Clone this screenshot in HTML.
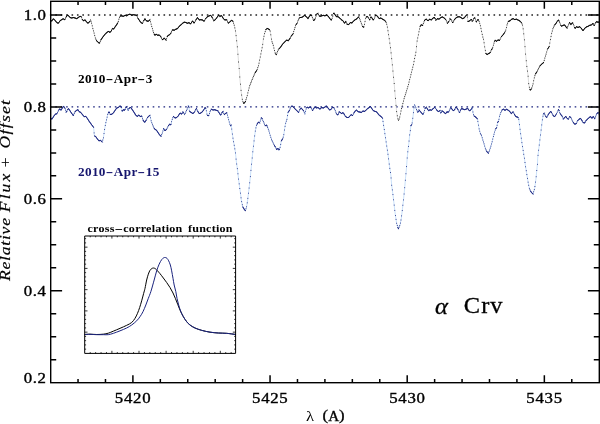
<!DOCTYPE html>
<html><head><meta charset="utf-8"><title>alpha Crv spectra</title>
<style>html,body{margin:0;padding:0;background:#fff}svg{display:block}text{font-family:"Liberation Serif","DejaVu Serif",serif;fill:#000}</style></head><body>
<svg width="600" height="424" viewBox="0 0 600 424">
<rect width="600" height="424" fill="#fff"/>
<path d="M49.9 15H599.3" stroke="#222" stroke-width="1.3" stroke-dasharray="1.6 3.81" fill="none"/>
<path d="M49.9 106.92H599.3" stroke="#1a237e" stroke-width="1.3" stroke-dasharray="1.6 3.81" fill="none"/>
<g fill="none" stroke-linecap="round" stroke-linejoin="round">
<path d="M50.7 20.83 L51.33 20.83 L51.67 21.33 L53.33 18.67 L55 20.33 L56.67 22.5 L58.33 23.33 L60 20.83 L61.67 19.67 L63.33 18.67 L64.67 20 L65.83 17.5 L67.5 15 L68.67 15.83 L70 17.5 L71.67 18 L73.33 17.5 L75 18 L76.67 18.67 L78.33 17.5 L80 16.33 L81.33 16.67 L82.5 20 L83.83 20.83 L85 19.67 L86.33 21.67 L88 23.33 L89.67 21.67 L90.5 19.67 L91.67 23.33 L93 29.17 L94.17 33.33 L95.33 38 L96.67 40.83 L98.33 42.5 L99.5 43.33 L100.83 40 L102.5 37.5 L104.17 35.33 L105.83 33.33 L107.5 32 L108.67 31.33 L110 32.5 L111.33 30.83 L112.5 28.33 L113.67 29.17 L115 27 L116.67 24.67 L118 22.5 L119.17 18.33 L120.33 15.83 L121.67 15.83 L123.33 16.33 L125 15.33 L126.67 15.83 L128.33 14.67 L130 14.17 L131.67 15.33 L133.33 14.67 L135 15 L136.67 15.33 L138 18.33 L139.67 20.83 L140.83 22.5 L142.5 23.33 L143.67 20.83 L145 18.67 L146.33 20.83 L148.33 21.33 L150 19.67 L151.33 25 L153 30.83 L154.67 35.33 L156.33 34.17 L157.5 35.33 L159.17 35 L160.83 36.67 L162.5 40 L164.17 38 L166.17 40.33 L167.5 35.83 L169.17 35 L170.83 33.33 L172.5 29.67 L174.17 30.33 L175.83 29.17 L177.5 28.67 L179.17 26.33 L180.83 25 L182.5 23.33 L184.17 22.17 L185.83 22.5 L187.5 23.33 L189.17 22.5 L190.5 24.17 L192.5 20.83 L194.17 23.33 L195.83 20 L197.5 17.5 L199.17 20 L200.83 19.67 L202.5 20 L204.17 21.33 L205.83 18.33 L207.5 16.67 L209.17 15.83 L210.83 15.33 L212.5 18 L213.83 20.83 L215.83 19.17 L217.5 16.67 L218.83 15 L220 16.67 L221.33 15.33 L223 18 L224.67 20 L226.67 19.67 L228.33 23.33 L230 21.67 L231.67 20.33 L233 21.33 L234.17 25 L235.33 30 L236.33 37.5 L237.17 45 L238 55 L238.67 63.33 L239.33 70 L240 80 L241.17 91.67 L242.5 100.83 L243.83 103.67 L245.33 101.67 L247 96.67 L248.33 90.83 L249.67 85.83 L251.67 80.83 L253.33 76.67 L255.33 72.5 L257 70 L258.67 65 L260 58.33 L261.33 51.67 L262.67 45 L263.33 39.17 L264.67 33.33 L265.83 29.67 L267.17 28.33 L268.67 29.17 L270 30 L270.83 35 L271.67 40.83 L273 44.17 L274.17 49.17 L275.33 53.67 L276.33 54.67 L277.5 51.67 L278.67 49.17 L280.33 47.5 L282 45 L283.67 43 L285.33 41.33 L286.67 40 L288.33 40.83 L290 38.33 L291.67 35.33 L293 34.17 L294.17 30 L295.83 25 L297 23.33 L298.33 20 L299.67 17.5 L301.33 17.5 L303 16.67 L304.67 15.33 L306.33 16.67 L308 18.67 L309.67 15.83 L311.33 14.67 L312.67 18.33 L313.83 20.83 L315.33 18.33 L316.67 14.17 L318 13.33 L319.17 15.83 L320 16.33 L321.67 15.83 L323.33 15.33 L325 15.83 L326.67 15 L328.33 16.33 L329.67 18.33 L331.33 20.33 L332.5 17.5 L333.67 12.5 L335 14.67 L336.33 16.67 L338 16.67 L339.67 18 L341.33 19.67 L343 20.83 L344.67 23.33 L345.83 21.33 L347 24.17 L348.67 24.67 L350.33 22.5 L352 23 L353.67 20.83 L355.33 19.67 L357 18.67 L358.67 16.67 L360 19.67 L361.33 23.33 L362.67 26.67 L363.67 27.5 L364.67 23.33 L365.83 17.5 L367.17 16.33 L368.33 17.5 L369.67 20.33 L370.83 16.67 L372 18 L373.33 20.33 L374.67 17.5 L375.83 15 L377.5 16.33 L379.17 18.67 L380.83 18 L382.5 19.17 L384.17 20 L385.83 21.67 L387 25 L388 30.83 L389.17 38.33 L390.33 46.67 L391.33 55 L392.17 63.33 L393 71.67 L394.17 83.33 L395 93.33 L395.83 103.33 L396.67 111.67 L397.67 118.33 L398.5 120.33 L399.5 118.33 L400.83 111.67 L402.5 105 L404.17 98.33 L406.33 91.67 L408.33 85 L410 78.33 L411.67 71.67 L413.33 65 L415 56.67 L416.33 50 L416.67 43.33 L418 36.67 L419.17 30.83 L420.33 25.83 L421.33 24.67 L422.5 25.83 L423.67 22.5 L425 19.67 L426.33 19.17 L428 20.83 L429.67 19.17 L431.33 20 L433 18 L434.67 17.5 L435.83 20.33 L437.5 18.67 L439.17 19.17 L440.83 17.5 L442.5 17 L444.17 18 L445.83 19.67 L447.5 23.33 L448.67 21.67 L450 18.67 L451.33 20 L452.67 23 L454.17 20 L455.83 18 L457.5 17 L459.17 16.67 L460.83 17.5 L462.5 18.67 L464.17 18 L465.83 15.83 L467 14.67 L468 21.67 L469.67 20.83 L471.33 19.17 L472.5 21.67 L473.67 18.67 L475 17.5 L476.33 22.5 L477.5 19.67 L478.67 20 L480 24.17 L481.33 30 L482.5 35.83 L483.67 40 L484.67 46.67 L485.83 53.33 L487 54.67 L488.33 53.67 L490 53 L491.33 50 L492.5 48.33 L493.67 44.17 L495 40 L496.33 41.33 L498 40 L499.67 40.33 L501.33 36.67 L503 35 L504.67 32.5 L505.83 30 L507 25 L508.33 21.33 L510 20.83 L511.67 19.17 L513.33 18.67 L514.67 19.67 L516.33 19.17 L518 20 L519.67 20.83 L521.33 22.5 L522.5 25 L523.33 30 L524.17 37.5 L525 46.67 L525.83 56.67 L526.67 65 L528 75 L528.67 83.33 L529.67 89.17 L530.33 90.33 L531.67 88.33 L533 84.17 L534.17 78.33 L535.33 74.17 L537 71.67 L538.67 68.33 L540 65.83 L541.67 64.17 L543.67 62.5 L545 57.5 L546.33 53.33 L547.5 49.17 L549.17 46.67 L550.33 40 L551.67 33.33 L553 28.33 L554.67 25 L556.33 23 L557.5 20.83 L558.67 20 L560 23.33 L561.33 26.33 L563 25.33 L564.67 25 L565.83 26.67 L567 28.33 L568.33 25 L569.67 22.5 L570.83 24.67 L572.5 22.5 L573.67 25 L575 28.67 L576.33 26.67 L578 27.5 L579.67 26.67 L581.33 28.33 L583 30.83 L584.67 28.33 L586.33 27 L588 26.33 L589.67 25.33 L591.33 25 L593 23.33 L594.17 25.83 L595.33 23.33 L596.67 21.33 L598 22.5 L599.17 21.67 L600 23.33" stroke="#bbb" stroke-width="0.5"/>
<path d="M50.7 20.83h0M51.32 20.83h0M51.94 20.9h0M52.56 19.9h0M53.18 18.91h0M53.8 19.13h0M54.42 19.75h0M55.04 20.39h0M55.66 21.19h0M56.28 22h0M56.9 22.62h0M57.52 22.93h0M58.14 23.24h0M58.76 22.69h0M59.38 21.76h0M60 20.83h0M60.62 20.4h0M61.24 19.97h0M61.86 19.55h0M62.48 19.18h0M63.1 18.81h0M63.72 19.05h0M64.34 19.67h0M64.96 19.37h0M65.58 18.04h0M66.2 16.95h0M66.82 16.02h0M67.44 15.09h0M68.06 15.4h0M68.68 15.85h0M69.3 16.62h0M69.92 17.4h0M70.54 17.66h0M71.16 17.85h0M71.78 17.97h0M72.4 17.78h0M73.02 17.59h0M73.64 17.59h0M74.26 17.78h0M74.88 17.96h0M75.5 18.2h0M76.12 18.45h0M76.74 18.62h0M77.36 18.18h0M77.98 17.75h0M78.6 17.31h0M79.22 16.88h0M79.84 16.45h0M80.46 16.45h0M81.08 16.6h0M81.7 17.71h0M82.32 19.49h0M82.94 20.27h0M83.56 20.66h0M84.18 20.49h0M84.8 19.87h0M85.42 20.3h0M86.04 21.23h0M86.66 21.99h0M87.28 22.61h0M87.9 23.23h0M88.52 22.81h0M89.14 22.19h0M89.76 21.44h0M90.38 19.95h0M91 21.24h0M91.62 23.19h0M92.24 25.84h0M92.86 28.55h0M93.48 30.88h0M94.1 33.1h0M94.72 35.55h0M95.34 38.01h0M95.96 39.33h0M96.58 40.65h0M97.2 41.37h0M97.82 41.99h0M98.44 42.58h0M99.06 43.02h0M99.68 42.88h0M100.3 41.33h0M100.92 39.87h0M101.54 38.94h0M102.16 38.01h0M102.78 37.14h0M103.4 36.33h0M104.02 35.52h0M104.64 34.77h0M105.26 34.02h0M105.88 33.3h0M106.5 32.8h0M107.12 32.3h0M107.74 31.86h0M108.36 31.51h0M108.98 31.61h0M109.6 32.15h0M110.22 32.23h0M110.84 31.45h0M111.46 30.56h0M112.08 29.23h0M112.7 28.48h0M113.32 28.92h0M113.94 28.72h0M114.56 27.72h0M115.18 26.75h0M115.8 25.88h0M116.42 25.01h0M117.04 24.06h0M117.66 23.05h0M118.28 21.5h0M118.9 19.29h0M119.52 17.58h0M120.14 16.25h0M120.76 15.83h0M121.38 15.83h0M122 15.93h0M122.62 16.12h0M123.24 16.31h0M123.86 16.02h0M124.48 15.65h0M125.1 15.36h0M125.72 15.55h0M126.34 15.74h0M126.96 15.63h0M127.58 15.19h0M128.2 14.76h0M128.82 14.52h0M129.44 14.33h0M130.06 14.21h0M130.68 14.64h0M131.3 15.08h0M131.92 15.23h0M132.54 14.98h0M133.16 14.74h0M133.78 14.76h0M134.4 14.88h0M135.02 15h0M135.64 15.13h0M136.26 15.25h0M136.88 15.81h0M137.5 17.21h0M138.12 18.51h0M138.74 19.44h0M139.36 20.37h0M139.98 21.28h0M140.6 22.17h0M141.22 22.69h0M141.84 23h0M142.46 23.31h0M143.08 22.09h0M143.7 20.78h0M144.32 19.77h0M144.94 18.76h0M145.56 19.58h0M146.18 20.58h0M146.8 20.95h0M147.42 21.1h0M148.04 21.26h0M148.66 21.01h0M149.28 20.39h0M149.9 19.77h0M150.52 21.75h0M151.14 24.23h0M151.76 26.49h0M152.38 28.66h0M153 30.83h0M153.62 32.51h0M154.24 34.18h0M154.86 35.2h0M155.48 34.76h0M156.1 34.33h0M156.72 34.55h0M157.34 35.17h0M157.96 35.24h0M158.58 35.12h0M159.2 35.03h0M159.82 35.65h0M160.44 36.27h0M161.06 37.12h0M161.68 38.36h0M162.3 39.6h0M162.92 39.5h0M163.54 38.75h0M164.16 38.01h0M164.78 38.72h0M165.4 39.44h0M166.02 40.16h0M166.64 38.74h0M167.26 36.64h0M167.88 35.64h0M168.5 35.33h0M169.12 35.02h0M169.74 34.43h0M170.36 33.81h0M170.98 33.01h0M171.6 31.65h0M172.22 30.28h0M172.84 29.8h0M173.46 30.05h0M174.08 30.3h0M174.7 29.96h0M175.32 29.53h0M175.94 29.13h0M176.56 28.95h0M177.18 28.76h0M177.8 28.25h0M178.42 27.38h0M179.04 26.51h0M179.66 25.94h0M180.28 25.44h0M180.9 24.93h0M181.52 24.31h0M182.14 23.69h0M182.76 23.15h0M183.38 22.72h0M184 22.28h0M184.62 22.26h0M185.24 22.38h0M185.86 22.51h0M186.48 22.82h0M187.1 23.13h0M187.72 23.22h0M188.34 22.91h0M188.96 22.6h0M189.58 23.02h0M190.2 23.79h0M190.82 23.63h0M191.44 22.6h0M192.06 21.57h0M192.68 21.1h0M193.3 22.03h0M193.92 22.96h0M194.54 22.59h0M195.16 21.35h0M195.78 20.11h0M196.4 19.15h0M197.02 18.22h0M197.64 17.71h0M198.26 18.64h0M198.88 19.57h0M199.5 19.93h0M200.12 19.81h0M200.74 19.69h0M201.36 19.77h0M201.98 19.9h0M202.6 20.08h0M203.22 20.58h0M203.84 21.07h0M204.46 20.81h0M205.08 19.69h0M205.7 18.57h0M206.32 17.85h0M206.94 17.23h0M207.56 16.64h0M208.18 16.33h0M208.8 16.02h0M209.42 15.76h0M210.04 15.57h0M210.66 15.39h0M211.28 16.05h0M211.9 17.04h0M212.52 18.04h0M213.14 19.36h0M213.76 20.68h0M214.38 20.38h0M215 19.86h0M215.62 19.34h0M216.24 18.56h0M216.86 17.63h0M217.48 16.7h0M218.1 15.92h0M218.72 15.14h0M219.34 15.72h0M219.96 16.61h0M220.58 16.09h0M221.2 15.47h0M221.82 16.11h0M222.44 17.1h0M223.06 18.07h0M223.68 18.82h0M224.3 19.56h0M224.92 19.96h0M225.54 19.85h0M226.16 19.75h0M226.78 19.92h0M227.4 21.28h0M228.02 22.64h0M228.64 23.03h0M229.26 22.41h0M229.88 21.79h0M230.5 21.27h0M231.12 20.77h0M231.74 20.39h0M232.36 20.85h0M232.98 21.32h0M233.6 23.22h0M234.22 25.23h0M234.84 27.89h0M235.46 30.95h0M236.08 35.6h0M236.7 40.8h0M237.32 46.84h0M237.94 54.28h0M238.56 62h0M239.18 68.47h0M239.8 77h0M240.42 84.2h0M241.04 90.4h0M241.66 95.06h0M242.28 99.32h0M242.9 101.68h0M243.52 103h0M244.14 103.26h0M244.76 102.43h0M245.38 101.53h0M246 99.67h0M246.62 97.81h0M247.24 95.62h0M247.86 92.9h0M248.48 90.28h0M249.1 87.96h0M249.72 85.7h0M250.34 84.15h0M250.96 82.6h0M251.58 81.05h0M252.2 79.5h0M252.82 77.95h0M253.44 76.44h0M254.06 75.15h0M254.68 73.86h0M255.3 72.57h0M255.92 71.62h0M256.54 70.69h0M257.16 69.52h0M257.78 67.66h0M258.4 65.8h0M259.02 63.23h0M259.64 60.13h0M260.26 57.03h0M260.88 53.93h0M261.5 50.83h0M262.12 47.73h0M262.74 44.36h0M263.36 39.05h0M263.98 36.34h0M264.6 33.63h0M265.22 31.59h0M265.84 29.66h0M266.46 29.04h0M267.08 28.42h0M267.7 28.63h0M268.32 28.97h0M268.94 29.34h0M269.56 29.72h0M270.18 31.08h0M270.8 34.8h0M271.42 39.11h0M272.04 41.77h0M272.66 43.32h0M273.28 45.37h0M273.9 48.02h0M274.52 50.53h0M275.14 52.92h0M275.76 54.09h0M276.38 54.55h0M277 52.95h0M277.62 51.41h0M278.24 50.08h0M278.86 48.97h0M279.48 48.35h0M280.1 47.73h0M280.72 46.92h0M281.34 45.99h0M281.96 45.06h0M282.58 44.3h0M283.2 43.56h0M283.82 42.85h0M284.44 42.23h0M285.06 41.61h0M285.68 40.99h0M286.3 40.37h0M286.92 40.13h0M287.54 40.44h0M288.16 40.75h0M288.78 40.16h0M289.4 39.23h0M290.02 38.3h0M290.64 37.18h0M291.26 36.07h0M291.88 35.15h0M292.5 34.6h0M293.12 33.74h0M293.74 31.52h0M294.36 29.42h0M294.98 27.56h0M295.6 25.7h0M296.22 24.45h0M296.84 23.56h0M297.46 22.18h0M298.08 20.63h0M298.7 19.31h0M299.32 18.15h0M299.94 17.5h0M300.56 17.5h0M301.18 17.5h0M301.8 17.27h0M302.42 16.96h0M303.04 16.63h0M303.66 16.14h0M304.28 15.64h0M304.9 15.52h0M305.52 16.02h0M306.14 16.51h0M306.76 17.18h0M307.38 17.92h0M308 18.67h0M308.62 17.61h0M309.24 16.56h0M309.86 15.7h0M310.48 15.26h0M311.1 14.83h0M311.72 15.73h0M312.34 17.43h0M312.96 18.96h0M313.58 20.29h0M314.2 20.22h0M314.82 19.19h0M315.44 18h0M316.06 16.06h0M316.68 14.16h0M317.3 13.77h0M317.92 13.38h0M318.54 14.49h0M319.16 15.82h0M319.78 16.2h0M320.4 16.21h0M321.02 16.03h0M321.64 15.84h0M322.26 15.66h0M322.88 15.47h0M323.5 15.38h0M324.12 15.57h0M324.74 15.76h0M325.36 15.65h0M325.98 15.34h0M326.6 15.03h0M327.22 15.44h0M327.84 15.94h0M328.46 16.52h0M329.08 17.45h0M329.7 18.37h0M330.32 19.12h0M330.94 19.86h0M331.56 19.78h0M332.18 18.28h0M332.8 16.21h0M333.42 13.56h0M334.04 13.11h0M334.66 14.11h0M335.28 15.09h0M335.9 16.02h0M336.52 16.67h0M337.14 16.67h0M337.76 16.67h0M338.38 16.97h0M339 17.47h0M339.62 17.96h0M340.24 18.57h0M340.86 19.19h0M341.48 19.77h0M342.1 20.2h0M342.72 20.64h0M343.34 21.34h0M343.96 22.27h0M344.58 23.2h0M345.2 22.42h0M345.82 21.36h0M346.44 22.81h0M347.06 24.18h0M347.68 24.37h0M348.3 24.56h0M348.92 24.34h0M349.54 23.53h0M350.16 22.73h0M350.78 22.63h0M351.4 22.82h0M352.02 22.97h0M352.64 22.17h0M353.26 21.36h0M353.88 20.68h0M354.5 20.25h0M355.12 19.82h0M355.74 19.42h0M356.36 19.05h0M356.98 18.68h0M357.6 17.95h0M358.22 17.2h0M358.84 17.06h0M359.46 18.45h0M360.08 19.89h0M360.7 21.59h0M361.32 23.3h0M361.94 24.85h0M362.56 26.4h0M363.18 27.09h0M363.8 26.94h0M364.42 24.36h0M365.04 21.47h0M365.66 18.37h0M366.28 17.11h0M366.9 16.57h0M367.52 16.69h0M368.14 17.31h0M368.76 18.41h0M369.38 19.72h0M370 19.29h0M370.62 17.34h0M371.24 17.13h0M371.86 17.84h0M372.48 18.84h0M373.1 19.92h0M373.72 19.51h0M374.34 18.19h0M374.96 16.87h0M375.58 15.54h0M376.2 15.29h0M376.82 15.79h0M377.44 16.29h0M378.06 17.12h0M378.68 17.99h0M379.3 18.61h0M379.92 18.37h0M380.54 18.12h0M381.16 18.23h0M381.78 18.66h0M382.4 19.1h0M383.02 19.43h0M383.64 19.74h0M384.26 20.09h0M384.88 20.71h0M385.5 21.33h0M386.12 22.49h0M386.74 24.26h0M387.36 27.1h0M387.98 30.72h0M388.6 34.69h0M389.22 38.71h0M389.84 43.14h0M390.46 47.72h0M391.08 52.89h0M391.7 58.67h0M392.32 64.87h0M392.94 71.07h0M393.56 77.27h0M394.18 83.49h0M394.8 90.93h0M395.42 98.37h0M396.04 105.4h0M396.66 111.6h0M397.28 115.76h0M397.9 118.89h0M398.52 120.29h0M399.14 119.05h0M399.76 117.03h0M400.38 113.93h0M401 111h0M401.62 108.52h0M402.24 106.04h0M402.86 103.56h0M403.48 101.08h0M404.1 98.6h0M404.72 96.63h0M405.34 94.72h0M405.96 92.82h0M406.58 90.84h0M407.2 88.78h0M407.82 86.71h0M408.44 84.57h0M409.06 82.09h0M409.68 79.61h0M410.3 77.13h0M410.92 74.65h0M411.54 72.17h0M412.16 69.69h0M412.78 67.21h0M413.4 64.67h0M414.02 61.57h0M414.64 58.47h0M415.26 55.37h0M415.88 52.27h0M416.5 46.67h0M417.12 41.07h0M417.74 37.97h0M418.36 34.87h0M418.98 31.77h0M419.6 28.98h0M420.22 26.32h0M420.84 25.24h0M421.46 24.79h0M422.08 25.41h0M422.7 25.26h0M423.32 23.49h0M423.94 21.92h0M424.56 20.6h0M425.18 19.6h0M425.8 19.37h0M426.42 19.25h0M427.04 19.87h0M427.66 20.49h0M428.28 20.55h0M428.9 19.93h0M429.52 19.31h0M430.14 19.4h0M430.76 19.71h0M431.38 19.94h0M432 19.2h0M432.62 18.46h0M433.24 17.93h0M433.86 17.74h0M434.48 17.56h0M435.1 18.55h0M435.72 20.06h0M436.34 19.83h0M436.96 19.21h0M437.58 18.69h0M438.2 18.88h0M438.82 19.06h0M439.44 18.89h0M440.06 18.27h0M440.68 17.65h0M441.3 17.36h0M441.92 17.17h0M442.54 17.02h0M443.16 17.4h0M443.78 17.77h0M444.4 18.23h0M445.02 18.85h0M445.64 19.47h0M446.26 20.61h0M446.88 21.97h0M447.5 23.33h0M448.12 22.45h0M448.74 21.5h0M449.36 20.11h0M449.98 18.71h0M450.6 19.27h0M451.22 19.89h0M451.84 21.14h0M452.46 22.53h0M453.08 22.17h0M453.7 20.93h0M454.32 19.82h0M454.94 19.07h0M455.56 18.33h0M456.18 17.79h0M456.8 17.42h0M457.42 17.05h0M458.04 16.89h0M458.66 16.77h0M459.28 16.72h0M459.9 17.03h0M460.52 17.34h0M461.14 17.71h0M461.76 18.15h0M462.38 18.58h0M463 18.47h0M463.62 18.22h0M464.24 17.9h0M464.86 17.1h0M465.48 16.29h0M466.1 15.57h0M466.72 14.95h0M467.34 17.05h0M467.96 21.39h0M468.58 21.38h0M469.2 21.07h0M469.82 20.68h0M470.44 20.06h0M471.06 19.44h0M471.68 19.91h0M472.3 21.24h0M472.92 20.59h0M473.54 18.99h0M474.16 18.24h0M474.78 17.69h0M475.4 19h0M476.02 21.32h0M476.64 21.76h0M477.26 20.25h0M477.88 19.78h0M478.5 19.95h0M479.12 21.42h0M479.74 23.35h0M480.36 25.74h0M480.98 28.45h0M481.6 31.33h0M482.22 34.43h0M482.84 37.05h0M483.46 39.26h0M484.08 42.76h0M484.7 46.86h0M485.32 50.4h0M485.94 53.46h0M486.56 54.16h0M487.18 54.53h0M487.8 54.07h0M488.42 53.63h0M489.04 53.38h0M489.66 53.14h0M490.28 52.37h0M490.9 50.98h0M491.52 49.73h0M492.14 48.85h0M492.76 47.4h0M493.38 45.19h0M494 43.13h0M494.62 41.19h0M495.24 40.24h0M495.86 40.86h0M496.48 41.22h0M497.1 40.72h0M497.72 40.22h0M498.34 40.07h0M498.96 40.19h0M499.58 40.32h0M500.2 39.16h0M500.82 37.8h0M501.44 36.56h0M502.06 35.94h0M502.68 35.32h0M503.3 34.55h0M503.92 33.62h0M504.54 32.69h0M505.16 31.44h0M505.78 30.11h0M506.4 27.57h0M507.02 24.95h0M507.64 23.24h0M508.26 21.54h0M508.88 21.17h0M509.5 20.98h0M510.12 20.71h0M510.74 20.09h0M511.36 19.47h0M511.98 19.07h0M512.6 18.89h0M513.22 18.7h0M513.84 19.05h0M514.46 19.51h0M515.08 19.54h0M515.7 19.36h0M516.32 19.17h0M516.94 19.47h0M517.56 19.78h0M518.18 20.09h0M518.8 20.4h0M519.42 20.71h0M520.04 21.21h0M520.66 21.83h0M521.28 22.45h0M521.9 23.71h0M522.52 25.12h0M523.14 28.84h0M523.76 33.84h0M524.38 39.85h0M525 46.67h0M525.62 54.11h0M526.24 60.73h0M526.86 66.45h0M527.48 71.1h0M528.1 76.25h0M528.72 83.64h0M529.34 87.26h0M529.96 89.68h0M530.58 89.96h0M531.2 89.03h0M531.82 87.85h0M532.44 85.92h0M533.06 83.87h0M533.68 80.77h0M534.3 77.86h0M534.92 75.64h0M535.54 73.86h0M536.16 72.93h0M536.78 72h0M537.4 70.87h0M538.02 69.63h0M538.64 68.39h0M539.26 67.22h0M539.88 66.06h0M540.5 65.33h0M541.12 64.71h0M541.74 64.11h0M542.36 63.59h0M542.98 63.07h0M543.6 62.56h0M544.22 60.43h0M544.84 58.1h0M545.46 56.06h0M546.08 54.13h0M546.7 52.02h0M547.32 49.81h0M547.94 48.51h0M548.56 47.58h0M549.18 46.59h0M549.8 43.05h0M550.42 39.57h0M551.04 36.47h0M551.66 33.37h0M552.28 31.03h0M552.9 28.71h0M553.52 27.29h0M554.14 26.05h0M554.76 24.89h0M555.38 24.14h0M556 23.4h0M556.62 22.47h0M557.24 21.32h0M557.86 20.58h0M558.48 20.13h0M559.1 21.08h0M559.72 22.63h0M560.34 24.1h0M560.96 25.49h0M561.58 26.19h0M562.2 25.81h0M562.82 25.44h0M563.44 25.25h0M564.06 25.12h0M564.68 25.02h0M565.3 25.9h0M565.92 26.79h0M566.54 27.68h0M567.16 27.93h0M567.78 26.38h0M568.4 24.88h0M569.02 23.71h0M569.64 22.55h0M570.26 23.6h0M570.88 24.61h0M571.5 23.8h0M572.12 22.99h0M572.74 23.01h0M573.36 24.34h0M573.98 25.86h0M574.6 27.57h0M575.22 28.34h0M575.84 27.41h0M576.46 26.73h0M577.08 27.04h0M577.7 27.35h0M578.32 27.34h0M578.94 27.03h0M579.56 26.72h0M580.18 27.18h0M580.8 27.8h0M581.42 28.46h0M582.04 29.39h0M582.66 30.32h0M583.28 30.41h0M583.9 29.48h0M584.52 28.55h0M585.14 27.95h0M585.76 27.46h0M586.38 26.98h0M587 26.73h0M587.62 26.49h0M588.24 26.19h0M588.86 25.82h0M589.48 25.45h0M590.1 25.25h0M590.72 25.12h0M591.34 24.99h0M591.96 24.37h0M592.58 23.75h0M593.2 23.76h0M593.82 25.09h0M594.44 25.25h0M595.06 23.92h0M595.68 22.81h0M596.3 21.88h0M596.92 21.55h0M597.54 22.1h0M598.16 22.39h0M598.78 21.94h0" stroke="#111" stroke-width="1"/>
<path d="M50.7 20.83 L51.32 20.83 L51.94 20.9 L52.56 19.9 L53.18 18.91 L53.8 19.13 L54.42 19.75 L55.04 20.39 L55.66 21.19 L56.28 22 L56.9 22.62 L57.52 22.93 L58.14 23.24 L58.76 22.69 L59.38 21.76 L60 20.83 L60.62 20.4 L61.24 19.97 L61.86 19.55 L62.48 19.18 L63.1 18.81 L63.72 19.05 L64.34 19.67 L64.96 19.37M66.2 16.95 L66.82 16.02 L67.44 15.09 L68.06 15.4 L68.68 15.85 L69.3 16.62 L69.92 17.4 L70.54 17.66 L71.16 17.85 L71.78 17.97 L72.4 17.78 L73.02 17.59 L73.64 17.59 L74.26 17.78 L74.88 17.96 L75.5 18.2 L76.12 18.45 L76.74 18.62 L77.36 18.18 L77.98 17.75 L78.6 17.31 L79.22 16.88 L79.84 16.45 L80.46 16.45 L81.08 16.6M82.32 19.49 L82.94 20.27 L83.56 20.66 L84.18 20.49 L84.8 19.87 L85.42 20.3 L86.04 21.23 L86.66 21.99 L87.28 22.61 L87.9 23.23 L88.52 22.81 L89.14 22.19 L89.76 21.44M96.58 40.65 L97.2 41.37 L97.82 41.99 L98.44 42.58 L99.06 43.02 L99.68 42.88M100.92 39.87 L101.54 38.94 L102.16 38.01 L102.78 37.14 L103.4 36.33 L104.02 35.52 L104.64 34.77 L105.26 34.02 L105.88 33.3 L106.5 32.8 L107.12 32.3 L107.74 31.86 L108.36 31.51 L108.98 31.61 L109.6 32.15 L110.22 32.23 L110.84 31.45 L111.46 30.56M112.08 29.23 L112.7 28.48 L113.32 28.92 L113.94 28.72 L114.56 27.72 L115.18 26.75 L115.8 25.88 L116.42 25.01 L117.04 24.06 L117.66 23.05M120.14 16.25 L120.76 15.83 L121.38 15.83 L122 15.93 L122.62 16.12 L123.24 16.31 L123.86 16.02 L124.48 15.65 L125.1 15.36 L125.72 15.55 L126.34 15.74 L126.96 15.63 L127.58 15.19 L128.2 14.76 L128.82 14.52 L129.44 14.33 L130.06 14.21 L130.68 14.64 L131.3 15.08 L131.92 15.23 L132.54 14.98 L133.16 14.74 L133.78 14.76 L134.4 14.88 L135.02 15 L135.64 15.13 L136.26 15.25 L136.88 15.81M138.12 18.51 L138.74 19.44 L139.36 20.37 L139.98 21.28 L140.6 22.17 L141.22 22.69 L141.84 23 L142.46 23.31M143.7 20.78 L144.32 19.77 L144.94 18.76 L145.56 19.58 L146.18 20.58 L146.8 20.95 L147.42 21.1 L148.04 21.26 L148.66 21.01 L149.28 20.39 L149.9 19.77M154.24 34.18 L154.86 35.2 L155.48 34.76 L156.1 34.33 L156.72 34.55 L157.34 35.17 L157.96 35.24 L158.58 35.12 L159.2 35.03 L159.82 35.65 L160.44 36.27 L161.06 37.12M162.3 39.6 L162.92 39.5 L163.54 38.75 L164.16 38.01 L164.78 38.72 L165.4 39.44 L166.02 40.16M167.26 36.64 L167.88 35.64 L168.5 35.33 L169.12 35.02 L169.74 34.43 L170.36 33.81 L170.98 33.01M172.22 30.28 L172.84 29.8 L173.46 30.05 L174.08 30.3 L174.7 29.96 L175.32 29.53 L175.94 29.13 L176.56 28.95 L177.18 28.76 L177.8 28.25 L178.42 27.38 L179.04 26.51 L179.66 25.94 L180.28 25.44 L180.9 24.93 L181.52 24.31 L182.14 23.69 L182.76 23.15 L183.38 22.72 L184 22.28 L184.62 22.26 L185.24 22.38 L185.86 22.51 L186.48 22.82 L187.1 23.13 L187.72 23.22 L188.34 22.91 L188.96 22.6 L189.58 23.02 L190.2 23.79 L190.82 23.63 L191.44 22.6 L192.06 21.57 L192.68 21.1 L193.3 22.03 L193.92 22.96 L194.54 22.59M195.78 20.11 L196.4 19.15 L197.02 18.22 L197.64 17.71 L198.26 18.64 L198.88 19.57 L199.5 19.93 L200.12 19.81 L200.74 19.69 L201.36 19.77 L201.98 19.9 L202.6 20.08 L203.22 20.58 L203.84 21.07 L204.46 20.81M205.7 18.57 L206.32 17.85 L206.94 17.23 L207.56 16.64 L208.18 16.33 L208.8 16.02 L209.42 15.76 L210.04 15.57 L210.66 15.39 L211.28 16.05 L211.9 17.04 L212.52 18.04M213.76 20.68 L214.38 20.38 L215 19.86 L215.62 19.34 L216.24 18.56 L216.86 17.63 L217.48 16.7 L218.1 15.92 L218.72 15.14 L219.34 15.72 L219.96 16.61 L220.58 16.09 L221.2 15.47 L221.82 16.11 L222.44 17.1 L223.06 18.07 L223.68 18.82 L224.3 19.56 L224.92 19.96 L225.54 19.85 L226.16 19.75 L226.78 19.92M228.02 22.64 L228.64 23.03 L229.26 22.41 L229.88 21.79 L230.5 21.27 L231.12 20.77 L231.74 20.39 L232.36 20.85 L232.98 21.32M243.52 103 L244.14 103.26 L244.76 102.43 L245.38 101.53M255.3 72.57 L255.92 71.62 L256.54 70.69M265.84 29.66 L266.46 29.04 L267.08 28.42 L267.7 28.63 L268.32 28.97 L268.94 29.34 L269.56 29.72M275.76 54.09 L276.38 54.55M278.86 48.97 L279.48 48.35 L280.1 47.73 L280.72 46.92 L281.34 45.99 L281.96 45.06 L282.58 44.3 L283.2 43.56 L283.82 42.85 L284.44 42.23 L285.06 41.61 L285.68 40.99 L286.3 40.37 L286.92 40.13 L287.54 40.44 L288.16 40.75 L288.78 40.16 L289.4 39.23 L290.02 38.3M291.26 36.07 L291.88 35.15 L292.5 34.6 L293.12 33.74M296.22 24.45 L296.84 23.56M299.32 18.15 L299.94 17.5 L300.56 17.5 L301.18 17.5 L301.8 17.27 L302.42 16.96 L303.04 16.63 L303.66 16.14 L304.28 15.64 L304.9 15.52 L305.52 16.02 L306.14 16.51 L306.76 17.18 L307.38 17.92 L308 18.67 L308.62 17.61 L309.24 16.56 L309.86 15.7 L310.48 15.26 L311.1 14.83 L311.72 15.73M313.58 20.29 L314.2 20.22 L314.82 19.19M316.68 14.16 L317.3 13.77 L317.92 13.38M319.16 15.82 L319.78 16.2 L320.4 16.21 L321.02 16.03 L321.64 15.84 L322.26 15.66 L322.88 15.47 L323.5 15.38 L324.12 15.57 L324.74 15.76 L325.36 15.65 L325.98 15.34 L326.6 15.03 L327.22 15.44 L327.84 15.94 L328.46 16.52 L329.08 17.45 L329.7 18.37 L330.32 19.12 L330.94 19.86 L331.56 19.78M333.42 13.56 L334.04 13.11 L334.66 14.11 L335.28 15.09 L335.9 16.02 L336.52 16.67 L337.14 16.67 L337.76 16.67 L338.38 16.97 L339 17.47 L339.62 17.96 L340.24 18.57 L340.86 19.19 L341.48 19.77 L342.1 20.2 L342.72 20.64 L343.34 21.34 L343.96 22.27 L344.58 23.2 L345.2 22.42 L345.82 21.36M347.06 24.18 L347.68 24.37 L348.3 24.56 L348.92 24.34 L349.54 23.53 L350.16 22.73 L350.78 22.63 L351.4 22.82 L352.02 22.97 L352.64 22.17 L353.26 21.36 L353.88 20.68 L354.5 20.25 L355.12 19.82 L355.74 19.42 L356.36 19.05 L356.98 18.68 L357.6 17.95 L358.22 17.2 L358.84 17.06M362.56 26.4 L363.18 27.09 L363.8 26.94M366.28 17.11 L366.9 16.57 L367.52 16.69 L368.14 17.31M369.38 19.72 L370 19.29M370.62 17.34 L371.24 17.13 L371.86 17.84 L372.48 18.84 L373.1 19.92 L373.72 19.51M375.58 15.54 L376.2 15.29 L376.82 15.79 L377.44 16.29 L378.06 17.12 L378.68 17.99 L379.3 18.61 L379.92 18.37 L380.54 18.12 L381.16 18.23 L381.78 18.66 L382.4 19.1 L383.02 19.43 L383.64 19.74 L384.26 20.09 L384.88 20.71 L385.5 21.33M420.22 26.32 L420.84 25.24 L421.46 24.79 L422.08 25.41 L422.7 25.26M424.56 20.6 L425.18 19.6 L425.8 19.37 L426.42 19.25 L427.04 19.87 L427.66 20.49 L428.28 20.55 L428.9 19.93 L429.52 19.31 L430.14 19.4 L430.76 19.71 L431.38 19.94 L432 19.2 L432.62 18.46 L433.24 17.93 L433.86 17.74 L434.48 17.56 L435.1 18.55M435.72 20.06 L436.34 19.83 L436.96 19.21 L437.58 18.69 L438.2 18.88 L438.82 19.06 L439.44 18.89 L440.06 18.27 L440.68 17.65 L441.3 17.36 L441.92 17.17 L442.54 17.02 L443.16 17.4 L443.78 17.77 L444.4 18.23 L445.02 18.85 L445.64 19.47M447.5 23.33 L448.12 22.45 L448.74 21.5M449.98 18.71 L450.6 19.27 L451.22 19.89M452.46 22.53 L453.08 22.17M454.32 19.82 L454.94 19.07 L455.56 18.33 L456.18 17.79 L456.8 17.42 L457.42 17.05 L458.04 16.89 L458.66 16.77 L459.28 16.72 L459.9 17.03 L460.52 17.34 L461.14 17.71 L461.76 18.15 L462.38 18.58 L463 18.47 L463.62 18.22 L464.24 17.9 L464.86 17.1 L465.48 16.29 L466.1 15.57 L466.72 14.95M467.96 21.39 L468.58 21.38 L469.2 21.07 L469.82 20.68 L470.44 20.06 L471.06 19.44 L471.68 19.91M472.3 21.24 L472.92 20.59M473.54 18.99 L474.16 18.24 L474.78 17.69M476.02 21.32 L476.64 21.76M477.26 20.25 L477.88 19.78 L478.5 19.95M485.94 53.46 L486.56 54.16 L487.18 54.53 L487.8 54.07 L488.42 53.63 L489.04 53.38 L489.66 53.14 L490.28 52.37M491.52 49.73 L492.14 48.85M494.62 41.19 L495.24 40.24 L495.86 40.86 L496.48 41.22 L497.1 40.72 L497.72 40.22 L498.34 40.07 L498.96 40.19 L499.58 40.32M501.44 36.56 L502.06 35.94 L502.68 35.32 L503.3 34.55 L503.92 33.62 L504.54 32.69M508.26 21.54 L508.88 21.17 L509.5 20.98 L510.12 20.71 L510.74 20.09 L511.36 19.47 L511.98 19.07 L512.6 18.89 L513.22 18.7 L513.84 19.05 L514.46 19.51 L515.08 19.54 L515.7 19.36 L516.32 19.17 L516.94 19.47 L517.56 19.78 L518.18 20.09 L518.8 20.4 L519.42 20.71 L520.04 21.21 L520.66 21.83 L521.28 22.45M529.96 89.68 L530.58 89.96 L531.2 89.03M535.54 73.86 L536.16 72.93 L536.78 72M539.88 66.06 L540.5 65.33 L541.12 64.71 L541.74 64.11 L542.36 63.59 L542.98 63.07 L543.6 62.56M547.94 48.51 L548.56 47.58 L549.18 46.59M554.76 24.89 L555.38 24.14 L556 23.4 L556.62 22.47M557.24 21.32 L557.86 20.58 L558.48 20.13 L559.1 21.08M560.96 25.49 L561.58 26.19 L562.2 25.81 L562.82 25.44 L563.44 25.25 L564.06 25.12 L564.68 25.02 L565.3 25.9 L565.92 26.79 L566.54 27.68 L567.16 27.93M569.64 22.55 L570.26 23.6 L570.88 24.61 L571.5 23.8 L572.12 22.99 L572.74 23.01M574.6 27.57 L575.22 28.34 L575.84 27.41 L576.46 26.73 L577.08 27.04 L577.7 27.35 L578.32 27.34 L578.94 27.03 L579.56 26.72 L580.18 27.18 L580.8 27.8 L581.42 28.46 L582.04 29.39 L582.66 30.32 L583.28 30.41 L583.9 29.48 L584.52 28.55 L585.14 27.95 L585.76 27.46 L586.38 26.98 L587 26.73 L587.62 26.49 L588.24 26.19 L588.86 25.82 L589.48 25.45 L590.1 25.25 L590.72 25.12 L591.34 24.99 L591.96 24.37 L592.58 23.75 L593.2 23.76M593.82 25.09 L594.44 25.25M595.68 22.81 L596.3 21.88 L596.92 21.55 L597.54 22.1 L598.16 22.39 L598.78 21.94" stroke="#000" stroke-width="0.95"/>
<path d="M50.7 118.33 L50.83 118.33 L52 119.17 L53.67 116.33 L55.33 114.17 L57 113.67 L58.33 110.83 L59.67 108.67 L61 110.33 L62.33 108 L63.67 106.33 L65 108.33 L66.33 112.5 L67.5 109.67 L68.67 108.67 L70 110.83 L71.67 113.33 L73.33 115.83 L75 111.67 L76.67 110.33 L78 109.67 L79.17 111.67 L80.83 112.5 L82.5 114.67 L84.17 116.67 L85.83 116.33 L87.5 118.67 L89.17 121.33 L90.83 123.67 L92.5 125.83 L93.67 127.5 L94.33 135.83 L95.83 136.67 L97.5 139.17 L98.83 140.83 L100.5 140.33 L102.17 142 L103.33 138.33 L104.17 132.5 L105.33 125 L106.67 119.17 L108 113.33 L109.17 111.67 L110.33 114.67 L112 114.17 L113.67 112.5 L115.33 110 L116.67 108 L118.33 107.5 L120 105.83 L121.33 107 L122.17 111.67 L123.33 109.67 L124.67 110.33 L125.83 107.5 L127 106.67 L128 110.83 L129.17 108 L130.83 107.5 L132.5 110 L134.17 112.5 L135.83 115.33 L137.5 116.33 L138.83 115 L140.33 116.67 L141.67 115.83 L143 120 L144.67 122.5 L145.83 120.83 L147.5 117.5 L149.17 115.83 L150 115.33 L151.33 121.67 L153 125.83 L154.67 129.17 L156.33 130 L158 132.5 L159.67 135 L161 136.33 L162.5 132.5 L163.67 128.33 L165 130.83 L166.67 129.17 L168.33 125.83 L169.67 124.17 L170.83 125 L172 120 L173.33 116.33 L175 118 L176.67 117.5 L178.33 115.83 L180 113 L181.67 114.17 L183 111.67 L184.67 114.67 L186.33 110.83 L187.5 108.33 L188.67 105.33 L189.67 111.67 L191.33 112.5 L193 113.67 L194.67 111.67 L196.33 108.33 L197.5 110.83 L199.17 113.67 L200.83 113 L202.5 111.67 L204.17 109.17 L205.33 107 L206.33 110.83 L207.17 115.33 L208.67 115.83 L210 111.67 L211.33 109.17 L213 110 L214.67 109.67 L216.33 110.33 L218 110.83 L219.17 113 L220.83 115.33 L222 112.5 L223 111.33 L224.17 114.67 L225.33 113.67 L226.67 112.5 L227.83 116.67 L229.17 121.67 L230.33 125.83 L231.33 125 L232 131.67 L233 138.33 L234.17 145 L235.33 151.67 L236.17 160 L237.5 170 L238.67 180 L240 190 L241.33 200 L242.67 206.67 L244.17 209.17 L245.33 210.83 L246.67 206.67 L247.67 200 L248.67 191.67 L249.67 183.33 L250.5 175 L251.33 166.67 L252.17 158.33 L253 150 L254.17 140 L255.33 130.83 L256.33 125.83 L257.5 123.33 L258.67 122 L259.67 123 L260.83 119.17 L261.67 117.5 L263 120.83 L264.17 123.33 L265.33 125.83 L266.67 125 L268 128.33 L269.17 131.67 L270.33 135.83 L271.67 140 L273 142.5 L274.17 145 L275.33 147 L276.67 149.67 L278 148.33 L279.17 150.33 L280.33 146.67 L281.33 140.83 L282.5 139.17 L283.67 135.83 L284.67 128.33 L285.83 122.5 L287 119.17 L288 112.5 L289.17 110.83 L290.33 108.33 L291.67 105.83 L293 106.67 L294.17 108 L295.83 109.67 L297.5 111.33 L298.67 112.5 L300 109.17 L301.33 108 L302.5 109.67 L303.67 110.83 L305 114.17 L305.83 109.67 L307 107 L308.33 108 L310 107 L311.33 108 L312.5 110.83 L313.67 108.67 L315 106.67 L316.33 108 L318 107.5 L320 109.17 L321.67 107.5 L323.33 108 L325 107 L326.33 105.83 L328 108 L329.67 110 L331.33 109.17 L332.5 107 L334.17 108 L335.33 110.83 L336.67 114.17 L338 115 L339.17 111.67 L340.33 112.5 L341.67 113.67 L343 112.5 L344.17 114.17 L345.33 116.33 L347 117.5 L348.67 117.5 L350 115.83 L351.33 114.67 L352.5 115.83 L353.67 113.33 L355 111.33 L356.33 110 L358 111.67 L359.67 112 L361.33 112.5 L363 110.83 L364.17 111.67 L365.83 110.33 L367.5 108.67 L369.17 107.5 L370.5 106.33 L371.67 108.33 L373 110.33 L374.67 111.33 L376.33 111.67 L377.5 113 L378.67 114.67 L380 115.83 L381.33 116.67 L382.5 118.33 L383.33 123.33 L384.33 130 L385.33 136.67 L386.33 143.33 L387.33 150 L388.33 156.67 L389.33 165 L390.83 175 L391.67 185 L393 195 L394.17 205 L395.33 215 L396.67 223.33 L398.33 229.17 L400 225 L401.33 218.33 L402.5 208.33 L403.67 198.33 L404.67 188.33 L405.5 178.33 L406.33 170 L407.17 158.33 L408 150 L408.83 143.33 L409.67 135 L410 133.33 L410.83 125.83 L412 124.17 L413 116.67 L413.67 110 L414.5 104.67 L415.5 106.67 L416.67 110 L418 112.5 L419.17 109.67 L420.33 111.67 L421.67 113 L423 114.67 L424.17 111.67 L425.33 108 L426.33 107 L427.5 109.17 L428.67 110.83 L430 109.67 L431.33 110.33 L432.5 109.17 L433.67 108.33 L435 107 L436.33 109.67 L437.5 110.83 L438.67 111.67 L440 110.33 L440.83 113.33 L442 110.83 L443.33 111.67 L444.67 113 L445.83 113.67 L447 111.67 L448.33 112.5 L449.67 109.67 L450.83 107.5 L452 109.17 L453.33 110.83 L454.67 109.67 L455.83 107 L457 108 L458.33 110.33 L459.5 113 L460.5 110.33 L461.67 108.33 L463 109.17 L464.67 109.67 L466.33 109.17 L467.5 108 L468.67 110 L470 110.83 L471.33 109.17 L472.17 107 L473 112.5 L473.83 115.83 L475 116.67 L476.33 117.5 L477.5 119.17 L478.33 124.17 L479.17 129.17 L480.33 133.33 L481.67 135.83 L482.83 140 L484.17 144.17 L485.33 148.33 L486.67 151.33 L488.33 153.33 L489.67 150 L491 145.83 L492.17 141.67 L493.33 136.67 L494.5 132.5 L495.5 129.17 L496.67 127.5 L497.67 122.5 L498.67 120.83 L499.67 115.83 L500.83 112.5 L502 110 L503.33 109.17 L505 110.33 L506.67 109.17 L508.33 110.33 L509.67 111.33 L511.33 113.67 L513 111.67 L514.67 114.67 L515.83 116.67 L517.5 117 L518.67 118.33 L519.67 126.67 L520.83 135 L522 143.33 L523.33 151.67 L524.67 160 L525.33 165 L526.67 173.33 L528 181.67 L529.33 188.33 L530.83 191.67 L533 194.17 L534.67 188.33 L535.83 180 L536.67 171.67 L537.5 163.33 L537.67 158.33 L538.67 150 L539.67 141.67 L540.5 135 L541.33 128.33 L542.33 120 L543.33 114.17 L544.33 113 L545.33 115.83 L546.67 117.5 L548 115 L549.67 112.5 L550.83 111.33 L552 113.33 L553.33 115.83 L554.67 116.67 L556.33 114.17 L557.5 111.67 L558.67 109.17 L559.67 112.5 L560.83 114.67 L562 115.83 L563.33 119.17 L564.67 117.5 L565.83 116.33 L567 118.33 L568.33 119.17 L569.67 116.67 L570.83 117.5 L572 120 L573.33 122.5 L574.67 124.17 L576.33 123.67 L577.5 120.83 L579.17 119.17 L580.5 118.33 L581.67 120 L583 122.5 L584.67 123 L585.83 120.83 L587.5 119.17 L589.17 117.5 L590.83 116.67 L592 118.33 L593.33 116.33 L594.67 119.17 L595.83 115.83 L597 113.33 L598.33 112.5 L599.5 115.83" stroke="#9cc8f6" stroke-width="0.55"/>
<path d="M50.7 118.33h0M51.32 118.68h0M51.94 119.12h0M52.56 118.21h0M53.18 117.16h0M53.8 116.16h0M54.42 115.35h0M55.04 114.55h0M55.66 114.07h0M56.28 113.88h0M56.9 113.7h0M57.52 112.56h0M58.14 111.24h0M58.76 110.14h0M59.38 109.13h0M60 109.08h0M60.62 109.86h0M61.24 109.91h0M61.86 108.83h0M62.48 107.82h0M63.1 107.04h0M63.72 106.41h0M64.34 107.34h0M64.96 108.27h0M65.58 110.15h0M66.2 112.08h0M66.82 111.32h0M67.44 109.81h0M68.06 109.19h0M68.68 108.69h0M69.3 109.7h0M69.92 110.7h0M70.54 111.64h0M71.16 112.57h0M71.78 113.5h0M72.4 114.43h0M73.02 115.36h0M73.64 115.07h0M74.26 113.52h0M74.88 111.97h0M75.5 111.27h0M76.12 110.77h0M76.74 110.3h0M77.36 109.99h0M77.98 109.68h0M78.6 110.7h0M79.22 111.69h0M79.84 112h0M80.46 112.31h0M81.08 112.82h0M81.7 113.63h0M82.32 114.43h0M82.94 115.19h0M83.56 115.94h0M84.18 116.66h0M84.8 116.54h0M85.42 116.42h0M86.04 116.62h0M86.66 117.49h0M87.28 118.36h0M87.9 119.31h0M88.52 120.3h0M89.14 121.29h0M89.76 122.16h0M90.38 123.03h0M91 123.88h0M91.62 124.69h0M92.24 125.5h0M92.86 126.35h0M93.48 127.23h0M94.1 132.92h0M94.72 136.05h0M95.34 136.39h0M95.96 136.86h0M96.58 137.79h0M97.2 138.72h0M97.82 139.57h0M98.44 140.34h0M99.06 140.77h0M99.68 140.58h0M100.3 140.39h0M100.92 140.75h0M101.54 141.37h0M102.16 141.99h0M102.78 140.07h0M103.4 137.87h0M104.02 133.53h0M104.64 129.46h0M105.26 125.47h0M105.88 122.61h0M106.5 119.9h0M107.12 117.18h0M107.74 114.47h0M108.36 112.82h0M108.98 111.93h0M109.6 112.78h0M110.22 114.38h0M110.84 114.51h0M111.46 114.33h0M112.08 114.09h0M112.7 113.47h0M113.32 112.85h0M113.94 112.09h0M114.56 111.16h0M115.18 110.23h0M115.8 109.3h0M116.42 108.37h0M117.04 107.89h0M117.66 107.7h0M118.28 107.52h0M118.9 106.93h0M119.52 106.31h0M120.14 105.96h0M120.76 106.5h0M121.38 107.26h0M122 110.73h0M122.62 110.89h0M123.24 109.83h0M123.86 109.93h0M124.48 110.24h0M125.1 109.28h0M125.72 107.78h0M126.34 107.14h0M126.96 106.7h0M127.58 109.08h0M128.2 110.35h0M128.82 108.84h0M129.44 107.92h0M130.06 107.73h0M130.68 107.55h0M131.3 108.2h0M131.92 109.13h0M132.54 110.06h0M133.16 110.99h0M133.78 111.92h0M134.4 112.9h0M135.02 113.95h0M135.64 115h0M136.26 115.59h0M136.88 115.96h0M137.5 116.33h0M138.12 115.71h0M138.74 115.09h0M139.36 115.59h0M139.98 116.27h0M140.6 116.5h0M141.22 116.11h0M141.84 116.37h0M142.46 118.31h0M143.08 120.12h0M143.7 121.05h0M144.32 121.98h0M144.94 122.11h0M145.56 121.22h0M146.18 120.14h0M146.8 118.9h0M147.42 117.66h0M148.04 116.96h0M148.66 116.34h0M149.28 115.77h0M149.9 115.39h0M150.52 117.8h0M151.14 120.75h0M151.76 122.73h0M152.38 124.28h0M153 125.83h0M153.62 127.07h0M154.24 128.31h0M154.86 129.26h0M155.48 129.57h0M156.1 129.88h0M156.72 130.58h0M157.34 131.51h0M157.96 132.44h0M158.58 133.37h0M159.2 134.3h0M159.82 135.15h0M160.44 135.77h0M161.06 136.18h0M161.68 134.6h0M162.3 133.01h0M162.92 131h0M163.54 128.79h0M164.16 129.26h0M164.78 130.42h0M165.4 130.43h0M166.02 129.81h0M166.64 129.19h0M167.26 127.98h0M167.88 126.74h0M168.5 125.63h0M169.12 124.85h0M169.74 124.22h0M170.36 124.66h0M170.98 124.37h0M171.6 121.71h0M172.22 119.4h0M172.84 117.69h0M173.46 116.46h0M174.08 117.08h0M174.7 117.7h0M175.32 117.9h0M175.94 117.72h0M176.56 117.53h0M177.18 116.99h0M177.8 116.37h0M178.42 115.69h0M179.04 114.63h0M179.66 113.58h0M180.28 113.2h0M180.9 113.63h0M181.52 114.06h0M182.14 113.28h0M182.76 112.12h0M183.38 112.35h0M184 113.47h0M184.62 114.58h0M185.24 113.35h0M185.86 111.92h0M186.48 110.52h0M187.1 109.19h0M187.72 107.77h0M188.34 106.17h0M188.96 107.19h0M189.58 111.12h0M190.2 111.93h0M190.82 112.24h0M191.44 112.57h0M192.06 113.01h0M192.68 113.44h0M193.3 113.31h0M193.92 112.56h0M194.54 111.82h0M195.16 110.68h0M195.78 109.44h0M196.4 108.48h0M197.02 109.8h0M197.64 111.07h0M198.26 112.13h0M198.88 113.18h0M199.5 113.53h0M200.12 113.29h0M200.74 113.04h0M201.36 112.58h0M201.98 112.08h0M202.6 111.52h0M203.22 110.59h0M203.84 109.66h0M204.46 108.62h0M205.08 107.47h0M205.7 108.41h0M206.32 110.78h0M206.94 114.11h0M207.56 115.46h0M208.18 115.67h0M208.8 115.42h0M209.42 113.48h0M210.04 111.59h0M210.66 110.43h0M211.28 109.27h0M211.9 109.45h0M212.52 109.76h0M213.14 109.97h0M213.76 109.85h0M214.38 109.72h0M215 109.8h0M215.62 110.05h0M216.24 110.3h0M216.86 110.49h0M217.48 110.68h0M218.1 111.02h0M218.72 112.17h0M219.34 113.24h0M219.96 114.11h0M220.58 114.98h0M221.2 114.44h0M221.82 112.94h0M222.44 111.99h0M223.06 111.5h0M223.68 113.28h0M224.3 114.55h0M224.92 114.02h0M225.54 113.49h0M226.16 112.94h0M226.78 112.9h0M227.4 115.12h0M228.02 117.37h0M228.64 119.69h0M229.26 122h0M229.88 124.21h0M230.5 125.69h0M231.12 125.18h0M231.74 129.07h0M232.36 134.07h0M232.98 138.2h0M233.6 141.76h0M234.22 145.3h0M234.84 148.85h0M235.46 152.93h0M236.08 159.13h0M236.7 164h0M237.32 168.65h0M237.94 173.77h0M238.56 179.09h0M239.18 183.85h0M239.8 188.5h0M240.42 193.15h0M241.04 197.8h0M241.66 201.63h0M242.28 204.73h0M242.9 207.06h0M243.52 208.09h0M244.14 209.12h0M244.76 210.01h0M245.38 210.69h0M246 208.75h0M246.62 206.81h0M247.24 202.84h0M247.86 198.39h0M248.48 193.22h0M249.1 188.06h0M249.72 182.8h0M250.34 176.6h0M250.96 170.4h0M251.58 164.2h0M252.2 158h0M252.82 151.8h0M253.44 146.23h0M254.06 140.91h0M254.68 135.97h0M255.3 131.1h0M255.92 127.9h0M256.54 125.39h0M257.16 124.06h0M257.78 123.01h0M258.4 122.3h0M259.02 122.35h0M259.64 122.97h0M260.26 121.05h0M260.88 119.07h0M261.5 117.83h0M262.12 118.63h0M262.74 120.18h0M263.36 121.6h0M263.98 122.93h0M264.6 124.26h0M265.22 125.59h0M265.84 125.52h0M266.46 125.13h0M267.08 126.03h0M267.7 127.58h0M268.32 129.25h0M268.94 131.02h0M269.56 133.07h0M270.18 135.29h0M270.8 137.29h0M271.42 139.23h0M272.04 140.7h0M272.66 141.86h0M273.28 143.1h0M273.9 144.43h0M274.52 145.61h0M275.14 146.67h0M275.76 147.85h0M276.38 149.09h0M277 149.33h0M277.62 148.71h0M278.24 148.74h0M278.86 149.81h0M279.48 149.35h0M280.1 147.4h0M280.72 144.41h0M281.34 140.82h0M281.96 139.94h0M282.58 138.94h0M283.2 137.17h0M283.82 134.68h0M284.44 130.03h0M285.06 126.37h0M285.68 123.27h0M286.3 121.17h0M286.92 119.4h0M287.54 115.57h0M288.16 112.27h0M288.78 111.39h0M289.4 110.33h0M290.02 109h0M290.64 107.76h0M291.26 106.6h0M291.88 105.97h0M292.5 106.35h0M293.12 106.8h0M293.74 107.51h0M294.36 108.19h0M294.98 108.81h0M295.6 109.43h0M296.22 110.05h0M296.84 110.67h0M297.46 111.29h0M298.08 111.91h0M298.7 112.42h0M299.32 110.87h0M299.94 109.32h0M300.56 108.68h0M301.18 108.13h0M301.8 108.67h0M302.42 109.55h0M303.04 110.21h0M303.66 110.83h0M304.28 112.37h0M304.9 113.92h0M305.52 111.36h0M306.14 108.97h0M306.76 107.55h0M307.38 107.28h0M308 107.75h0M308.62 107.83h0M309.24 107.46h0M309.86 107.08h0M310.48 107.36h0M311.1 107.82h0M311.72 108.94h0M312.34 110.44h0M312.96 109.98h0M313.58 108.83h0M314.2 107.87h0M314.82 106.94h0M315.44 107.11h0M316.06 107.73h0M316.68 107.9h0M317.3 107.71h0M317.92 107.52h0M318.54 107.95h0M319.16 108.47h0M319.78 108.98h0M320.4 108.77h0M321.02 108.15h0M321.64 107.53h0M322.26 107.68h0M322.88 107.86h0M323.5 107.9h0M324.12 107.53h0M324.74 107.16h0M325.36 106.69h0M325.98 106.14h0M326.6 106.18h0M327.22 106.99h0M327.84 107.79h0M328.46 108.55h0M329.08 109.3h0M329.7 109.98h0M330.32 109.67h0M330.94 109.36h0M331.56 108.75h0M332.18 107.59h0M332.8 107.18h0M333.42 107.55h0M334.04 107.92h0M334.66 109.2h0M335.28 110.7h0M335.9 112.25h0M336.52 113.8h0M337.14 114.46h0M337.76 114.85h0M338.38 113.91h0M339 112.14h0M339.62 111.99h0M340.24 112.43h0M340.86 112.96h0M341.48 113.5h0M342.1 113.29h0M342.72 112.75h0M343.34 112.99h0M343.96 113.87h0M344.58 114.93h0M345.2 116.09h0M345.82 116.67h0M346.44 117.11h0M347.06 117.5h0M347.68 117.5h0M348.3 117.5h0M348.92 117.18h0M349.54 116.41h0M350.16 115.69h0M350.78 115.15h0M351.4 114.73h0M352.02 115.35h0M352.64 115.53h0M353.26 114.2h0M353.88 113.01h0M354.5 112.08h0M355.12 111.21h0M355.74 110.59h0M356.36 110.03h0M356.98 110.65h0M357.6 111.27h0M358.22 111.71h0M358.84 111.83h0M359.46 111.96h0M360.08 112.12h0M360.7 112.31h0M361.32 112.5h0M361.94 111.89h0M362.56 111.27h0M363.18 110.96h0M363.8 111.4h0M364.42 111.46h0M365.04 110.97h0M365.66 110.47h0M366.28 109.89h0M366.9 109.27h0M367.52 108.65h0M368.14 108.22h0M368.76 107.78h0M369.38 107.31h0M370 106.77h0M370.62 106.54h0M371.24 107.6h0M371.86 108.62h0M372.48 109.55h0M373.1 110.39h0M373.72 110.77h0M374.34 111.14h0M374.96 111.39h0M375.58 111.52h0M376.2 111.64h0M376.82 112.22h0M377.44 112.93h0M378.06 113.8h0M378.68 114.68h0M379.3 115.22h0M379.92 115.76h0M380.54 116.17h0M381.16 116.56h0M381.78 117.3h0M382.4 118.19h0M383.02 121.45h0M383.64 125.38h0M384.26 129.51h0M384.88 133.64h0M385.5 137.78h0M386.12 141.91h0M386.74 146.04h0M387.36 150.18h0M387.98 154.31h0M388.6 158.89h0M389.22 164.06h0M389.84 168.38h0M390.46 172.51h0M391.08 177.96h0M391.7 185.25h0M392.32 189.9h0M392.94 194.55h0M393.56 199.8h0M394.18 205.11h0M394.8 210.43h0M395.42 215.54h0M396.04 219.42h0M396.66 223.29h0M397.28 225.48h0M397.9 227.65h0M398.52 228.7h0M399.14 227.15h0M399.76 225.6h0M400.38 223.1h0M401 220h0M401.62 215.88h0M402.24 210.56h0M402.86 205.25h0M403.48 199.93h0M404.1 194h0M404.72 187.69h0M405.34 180.25h0M405.96 173.73h0M406.58 166.55h0M407.2 158h0M407.82 151.8h0M408.44 146.48h0M409.06 141.07h0M409.68 134.93h0M410.3 130.63h0M410.92 125.71h0M411.54 124.82h0M412.16 122.97h0M412.78 118.32h0M413.4 112.67h0M414.02 107.74h0M414.64 104.95h0M415.26 106.19h0M415.88 107.75h0M416.5 109.52h0M417.12 110.85h0M417.74 112.01h0M418.36 111.63h0M418.98 110.12h0M419.6 110.41h0M420.22 111.47h0M420.84 112.17h0M421.46 112.79h0M422.08 113.52h0M422.7 114.29h0M423.32 113.84h0M423.94 112.25h0M424.56 110.43h0M425.18 108.48h0M425.8 107.53h0M426.42 107.16h0M427.04 108.31h0M427.66 109.4h0M428.28 110.28h0M428.9 110.63h0M429.52 110.09h0M430.14 109.74h0M430.76 110.05h0M431.38 110.29h0M432 109.67h0M432.62 109.08h0M433.24 108.64h0M433.86 108.14h0M434.48 107.52h0M435.1 107.2h0M435.72 108.44h0M436.34 109.67h0M436.96 110.29h0M437.58 110.89h0M438.2 111.33h0M438.82 111.51h0M439.44 110.89h0M440.06 110.55h0M440.68 112.78h0M441.3 112.33h0M441.92 111h0M442.54 111.17h0M443.16 111.56h0M443.78 112.11h0M444.4 112.73h0M445.02 113.2h0M445.64 113.56h0M446.26 112.94h0M446.88 111.87h0M447.5 111.98h0M448.12 112.37h0M448.74 111.64h0M449.36 110.32h0M449.98 109.08h0M450.6 107.93h0M451.22 108.05h0M451.84 108.94h0M452.46 109.74h0M453.08 110.52h0M453.7 110.51h0M454.32 109.97h0M454.94 109.04h0M455.56 107.62h0M456.18 107.3h0M456.8 107.83h0M457.42 108.73h0M458.04 109.82h0M458.66 111.08h0M459.28 112.5h0M459.9 111.93h0M460.52 110.3h0M461.14 109.24h0M461.76 108.39h0M462.38 108.78h0M463 109.17h0M463.62 109.35h0M464.24 109.54h0M464.86 109.61h0M465.48 109.42h0M466.1 109.24h0M466.72 108.78h0M467.34 108.16h0M467.96 108.79h0M468.58 109.85h0M469.2 110.33h0M469.82 110.72h0M470.44 110.28h0M471.06 109.51h0M471.68 108.27h0M472.3 107.88h0M472.92 111.97h0M473.54 114.66h0M474.16 116.07h0M474.78 116.51h0M475.4 116.92h0M476.02 117.3h0M476.64 117.94h0M477.26 118.82h0M477.88 121.45h0M478.5 125.17h0M479.12 128.89h0M479.74 131.21h0M480.36 133.38h0M480.98 134.55h0M481.6 135.71h0M482.22 137.81h0M482.84 140.02h0M483.46 141.96h0M484.08 143.9h0M484.7 146.07h0M485.32 148.29h0M485.94 149.7h0M486.56 151.09h0M487.18 151.95h0M487.8 152.69h0M488.42 153.12h0M489.04 151.57h0M489.66 150.02h0M490.28 148.08h0M490.9 146.15h0M491.52 143.98h0M492.14 141.76h0M492.76 139.12h0M493.38 136.5h0M494 134.29h0M494.62 132.1h0M495.24 130.03h0M495.86 128.65h0M496.48 127.77h0M497.1 125.33h0M497.72 122.41h0M498.34 121.38h0M498.96 119.37h0M499.58 116.27h0M500.2 114.31h0M500.82 112.54h0M501.44 111.2h0M502.06 109.96h0M502.68 109.58h0M503.3 109.19h0M503.92 109.58h0M504.54 110.01h0M505.16 110.22h0M505.78 109.79h0M506.4 109.35h0M507.02 109.41h0M507.64 109.85h0M508.26 110.28h0M508.88 110.74h0M509.5 111.21h0M510.12 111.97h0M510.74 112.84h0M511.36 113.63h0M511.98 112.89h0M512.6 112.15h0M513.22 112.06h0M513.84 113.18h0M514.46 114.29h0M515.08 115.38h0M515.7 116.44h0M516.32 116.76h0M516.94 116.89h0M517.56 117.07h0M518.18 117.78h0M518.8 119.44h0M519.42 124.61h0M520.04 129.33h0M520.66 133.76h0M521.28 138.19h0M521.9 142.62h0M522.52 146.58h0M523.14 150.46h0M523.76 154.33h0M524.38 158.21h0M525 162.5h0M525.62 166.79h0M526.24 170.67h0M526.86 174.54h0M527.48 178.42h0M528.1 182.17h0M528.72 185.27h0M529.34 188.35h0M529.96 189.73h0M530.58 191.1h0M531.2 192.09h0M531.82 192.81h0M532.44 193.52h0M533.06 193.96h0M533.68 191.79h0M534.3 189.62h0M534.92 186.52h0M535.54 182.1h0M536.16 176.73h0M536.78 170.53h0M537.4 164.33h0M538.02 155.39h0M538.64 150.22h0M539.26 145.06h0M539.88 139.96h0M540.5 135h0M541.12 130.04h0M541.74 124.94h0M542.36 119.84h0M542.98 116.23h0M543.6 113.86h0M544.22 113.13h0M544.84 114.44h0M545.46 115.99h0M546.08 116.77h0M546.7 117.44h0M547.32 116.28h0M547.94 115.11h0M548.56 114.16h0M549.18 113.23h0M549.8 112.37h0M550.42 111.75h0M551.04 111.69h0M551.66 112.75h0M552.28 113.86h0M552.9 115.02h0M553.52 115.95h0M554.14 116.34h0M554.76 116.53h0M555.38 115.6h0M556 114.67h0M556.62 113.55h0M557.24 112.22h0M557.86 110.9h0M558.48 109.57h0M559.1 110.61h0M559.72 112.6h0M560.34 113.75h0M560.96 114.79h0M561.58 115.41h0M562.2 116.33h0M562.82 117.88h0M563.44 119.03h0M564.06 118.26h0M564.68 117.49h0M565.3 116.87h0M565.92 116.48h0M566.54 117.54h0M567.16 118.43h0M567.78 118.82h0M568.4 119.04h0M569.02 117.88h0M569.64 116.72h0M570.26 117.09h0M570.88 117.6h0M571.5 118.93h0M572.12 120.22h0M572.74 121.39h0M573.36 122.53h0M573.98 123.31h0M574.6 124.08h0M575.22 124h0M575.84 123.81h0M576.46 123.36h0M577.08 121.85h0M577.7 120.63h0M578.32 120.01h0M578.94 119.39h0M579.56 118.92h0M580.18 118.53h0M580.8 118.76h0M581.42 119.65h0M582.04 120.7h0M582.66 121.86h0M583.28 122.58h0M583.9 122.77h0M584.52 122.96h0M585.14 122.12h0M585.76 120.97h0M586.38 120.29h0M587 119.67h0M587.62 119.05h0M588.24 118.43h0M588.86 117.81h0M589.48 117.34h0M590.1 117.03h0M590.72 116.72h0M591.34 117.39h0M591.96 118.28h0M592.58 117.46h0M593.2 116.53h0M593.82 117.37h0M594.44 118.68h0M595.06 118.04h0M595.68 116.27h0M596.3 114.83h0M596.92 113.5h0M597.54 113h0M598.16 112.61h0M598.78 113.78h0" stroke="#1a237e" stroke-width="1"/>
<path d="M50.7 118.33 L51.32 118.68 L51.94 119.12 L52.56 118.21 L53.18 117.16 L53.8 116.16 L54.42 115.35 L55.04 114.55 L55.66 114.07 L56.28 113.88 L56.9 113.7M58.76 110.14 L59.38 109.13 L60 109.08 L60.62 109.86 L61.24 109.91 L61.86 108.83 L62.48 107.82 L63.1 107.04 L63.72 106.41 L64.34 107.34 L64.96 108.27M66.2 112.08 L66.82 111.32M67.44 109.81 L68.06 109.19 L68.68 108.69 L69.3 109.7 L69.92 110.7 L70.54 111.64 L71.16 112.57 L71.78 113.5 L72.4 114.43 L73.02 115.36 L73.64 115.07M74.88 111.97 L75.5 111.27 L76.12 110.77 L76.74 110.3 L77.36 109.99 L77.98 109.68 L78.6 110.7 L79.22 111.69 L79.84 112 L80.46 112.31 L81.08 112.82 L81.7 113.63 L82.32 114.43 L82.94 115.19 L83.56 115.94 L84.18 116.66 L84.8 116.54 L85.42 116.42 L86.04 116.62 L86.66 117.49 L87.28 118.36 L87.9 119.31 L88.52 120.3 L89.14 121.29 L89.76 122.16 L90.38 123.03 L91 123.88 L91.62 124.69 L92.24 125.5 L92.86 126.35 L93.48 127.23M94.72 136.05 L95.34 136.39 L95.96 136.86 L96.58 137.79 L97.2 138.72 L97.82 139.57 L98.44 140.34 L99.06 140.77 L99.68 140.58 L100.3 140.39 L100.92 140.75 L101.54 141.37 L102.16 141.99M108.36 112.82 L108.98 111.93 L109.6 112.78M110.22 114.38 L110.84 114.51 L111.46 114.33 L112.08 114.09 L112.7 113.47 L113.32 112.85 L113.94 112.09 L114.56 111.16 L115.18 110.23 L115.8 109.3 L116.42 108.37 L117.04 107.89 L117.66 107.7 L118.28 107.52 L118.9 106.93 L119.52 106.31 L120.14 105.96 L120.76 106.5 L121.38 107.26M122 110.73 L122.62 110.89 L123.24 109.83 L123.86 109.93 L124.48 110.24 L125.1 109.28M125.72 107.78 L126.34 107.14 L126.96 106.7M128.82 108.84 L129.44 107.92 L130.06 107.73 L130.68 107.55 L131.3 108.2 L131.92 109.13 L132.54 110.06 L133.16 110.99 L133.78 111.92 L134.4 112.9 L135.02 113.95 L135.64 115 L136.26 115.59 L136.88 115.96 L137.5 116.33 L138.12 115.71 L138.74 115.09 L139.36 115.59 L139.98 116.27 L140.6 116.5 L141.22 116.11 L141.84 116.37M143.08 120.12 L143.7 121.05 L144.32 121.98 L144.94 122.11 L145.56 121.22 L146.18 120.14M147.42 117.66 L148.04 116.96 L148.66 116.34 L149.28 115.77 L149.9 115.39M154.24 128.31 L154.86 129.26 L155.48 129.57 L156.1 129.88 L156.72 130.58 L157.34 131.51 L157.96 132.44 L158.58 133.37 L159.2 134.3 L159.82 135.15 L160.44 135.77 L161.06 136.18M163.54 128.79 L164.16 129.26M164.78 130.42 L165.4 130.43 L166.02 129.81 L166.64 129.19M168.5 125.63 L169.12 124.85 L169.74 124.22 L170.36 124.66 L170.98 124.37M173.46 116.46 L174.08 117.08 L174.7 117.7 L175.32 117.9 L175.94 117.72 L176.56 117.53 L177.18 116.99 L177.8 116.37 L178.42 115.69 L179.04 114.63 L179.66 113.58 L180.28 113.2 L180.9 113.63 L181.52 114.06 L182.14 113.28M182.76 112.12 L183.38 112.35M188.34 106.17 L188.96 107.19M189.58 111.12 L190.2 111.93 L190.82 112.24 L191.44 112.57 L192.06 113.01 L192.68 113.44 L193.3 113.31 L193.92 112.56 L194.54 111.82M195.78 109.44 L196.4 108.48M197.64 111.07 L198.26 112.13 L198.88 113.18 L199.5 113.53 L200.12 113.29 L200.74 113.04 L201.36 112.58 L201.98 112.08 L202.6 111.52 L203.22 110.59 L203.84 109.66 L204.46 108.62M205.08 107.47 L205.7 108.41M207.56 115.46 L208.18 115.67 L208.8 115.42M211.28 109.27 L211.9 109.45 L212.52 109.76 L213.14 109.97 L213.76 109.85 L214.38 109.72 L215 109.8 L215.62 110.05 L216.24 110.3 L216.86 110.49 L217.48 110.68 L218.1 111.02M218.72 112.17 L219.34 113.24 L219.96 114.11 L220.58 114.98 L221.2 114.44M221.82 112.94 L222.44 111.99 L223.06 111.5M224.3 114.55 L224.92 114.02 L225.54 113.49 L226.16 112.94 L226.78 112.9M230.5 125.69 L231.12 125.18M242.9 207.06 L243.52 208.09 L244.14 209.12 L244.76 210.01 L245.38 210.69M257.16 124.06 L257.78 123.01 L258.4 122.3 L259.02 122.35 L259.64 122.97M261.5 117.83 L262.12 118.63M265.22 125.59 L265.84 125.52 L266.46 125.13 L267.08 126.03M274.52 145.61 L275.14 146.67M276.38 149.09 L277 149.33 L277.62 148.71 L278.24 148.74 L278.86 149.81 L279.48 149.35M281.34 140.82 L281.96 139.94 L282.58 138.94M288.16 112.27 L288.78 111.39 L289.4 110.33M291.26 106.6 L291.88 105.97 L292.5 106.35 L293.12 106.8 L293.74 107.51 L294.36 108.19 L294.98 108.81 L295.6 109.43 L296.22 110.05 L296.84 110.67 L297.46 111.29 L298.08 111.91 L298.7 112.42M299.94 109.32 L300.56 108.68 L301.18 108.13 L301.8 108.67 L302.42 109.55 L303.04 110.21 L303.66 110.83M306.76 107.55 L307.38 107.28 L308 107.75 L308.62 107.83 L309.24 107.46 L309.86 107.08 L310.48 107.36 L311.1 107.82M312.34 110.44 L312.96 109.98M313.58 108.83 L314.2 107.87 L314.82 106.94 L315.44 107.11 L316.06 107.73 L316.68 107.9 L317.3 107.71 L317.92 107.52 L318.54 107.95 L319.16 108.47 L319.78 108.98 L320.4 108.77 L321.02 108.15 L321.64 107.53 L322.26 107.68 L322.88 107.86 L323.5 107.9 L324.12 107.53 L324.74 107.16 L325.36 106.69 L325.98 106.14 L326.6 106.18 L327.22 106.99 L327.84 107.79 L328.46 108.55 L329.08 109.3 L329.7 109.98 L330.32 109.67 L330.94 109.36 L331.56 108.75M332.18 107.59 L332.8 107.18 L333.42 107.55 L334.04 107.92M336.52 113.8 L337.14 114.46 L337.76 114.85 L338.38 113.91M339 112.14 L339.62 111.99 L340.24 112.43 L340.86 112.96 L341.48 113.5 L342.1 113.29 L342.72 112.75 L343.34 112.99 L343.96 113.87 L344.58 114.93M345.2 116.09 L345.82 116.67 L346.44 117.11 L347.06 117.5 L347.68 117.5 L348.3 117.5 L348.92 117.18 L349.54 116.41 L350.16 115.69 L350.78 115.15 L351.4 114.73 L352.02 115.35 L352.64 115.53M353.88 113.01 L354.5 112.08 L355.12 111.21 L355.74 110.59 L356.36 110.03 L356.98 110.65 L357.6 111.27 L358.22 111.71 L358.84 111.83 L359.46 111.96 L360.08 112.12 L360.7 112.31 L361.32 112.5 L361.94 111.89 L362.56 111.27 L363.18 110.96 L363.8 111.4 L364.42 111.46 L365.04 110.97 L365.66 110.47 L366.28 109.89 L366.9 109.27 L367.52 108.65 L368.14 108.22 L368.76 107.78 L369.38 107.31 L370 106.77 L370.62 106.54 L371.24 107.6 L371.86 108.62 L372.48 109.55 L373.1 110.39 L373.72 110.77 L374.34 111.14 L374.96 111.39 L375.58 111.52 L376.2 111.64 L376.82 112.22 L377.44 112.93 L378.06 113.8 L378.68 114.68 L379.3 115.22 L379.92 115.76 L380.54 116.17 L381.16 116.56 L381.78 117.3 L382.4 118.19M397.9 227.65 L398.52 228.7M410.92 125.71 L411.54 124.82M417.74 112.01 L418.36 111.63M418.98 110.12 L419.6 110.41 L420.22 111.47 L420.84 112.17 L421.46 112.79 L422.08 113.52 L422.7 114.29 L423.32 113.84M425.18 108.48 L425.8 107.53 L426.42 107.16M427.04 108.31 L427.66 109.4 L428.28 110.28 L428.9 110.63 L429.52 110.09 L430.14 109.74 L430.76 110.05 L431.38 110.29 L432 109.67 L432.62 109.08 L433.24 108.64 L433.86 108.14 L434.48 107.52 L435.1 107.2M436.34 109.67 L436.96 110.29 L437.58 110.89 L438.2 111.33 L438.82 111.51 L439.44 110.89 L440.06 110.55M440.68 112.78 L441.3 112.33M441.92 111 L442.54 111.17 L443.16 111.56 L443.78 112.11 L444.4 112.73 L445.02 113.2 L445.64 113.56 L446.26 112.94 L446.88 111.87 L447.5 111.98 L448.12 112.37 L448.74 111.64M450.6 107.93 L451.22 108.05 L451.84 108.94 L452.46 109.74 L453.08 110.52 L453.7 110.51 L454.32 109.97 L454.94 109.04M455.56 107.62 L456.18 107.3 L456.8 107.83 L457.42 108.73 L458.04 109.82M459.28 112.5 L459.9 111.93M460.52 110.3 L461.14 109.24 L461.76 108.39 L462.38 108.78 L463 109.17 L463.62 109.35 L464.24 109.54 L464.86 109.61 L465.48 109.42 L466.1 109.24 L466.72 108.78 L467.34 108.16 L467.96 108.79 L468.58 109.85 L469.2 110.33 L469.82 110.72 L470.44 110.28 L471.06 109.51M471.68 108.27 L472.3 107.88M474.16 116.07 L474.78 116.51 L475.4 116.92 L476.02 117.3 L476.64 117.94 L477.26 118.82M486.56 151.09 L487.18 151.95 L487.8 152.69 L488.42 153.12M495.86 128.65 L496.48 127.77M497.72 122.41 L498.34 121.38M502.06 109.96 L502.68 109.58 L503.3 109.19 L503.92 109.58 L504.54 110.01 L505.16 110.22 L505.78 109.79 L506.4 109.35 L507.02 109.41 L507.64 109.85 L508.26 110.28 L508.88 110.74 L509.5 111.21 L510.12 111.97 L510.74 112.84 L511.36 113.63 L511.98 112.89 L512.6 112.15 L513.22 112.06M514.46 114.29 L515.08 115.38 L515.7 116.44 L516.32 116.76 L516.94 116.89 L517.56 117.07 L518.18 117.78M530.58 191.1 L531.2 192.09 L531.82 192.81 L532.44 193.52 L533.06 193.96M543.6 113.86 L544.22 113.13M545.46 115.99 L546.08 116.77 L546.7 117.44M547.94 115.11 L548.56 114.16 L549.18 113.23 L549.8 112.37 L550.42 111.75 L551.04 111.69 L551.66 112.75M552.9 115.02 L553.52 115.95 L554.14 116.34 L554.76 116.53 L555.38 115.6 L556 114.67M558.48 109.57 L559.1 110.61M560.34 113.75 L560.96 114.79 L561.58 115.41 L562.2 116.33M563.44 119.03 L564.06 118.26 L564.68 117.49 L565.3 116.87 L565.92 116.48 L566.54 117.54 L567.16 118.43 L567.78 118.82 L568.4 119.04M569.64 116.72 L570.26 117.09 L570.88 117.6M573.36 122.53 L573.98 123.31 L574.6 124.08 L575.22 124 L575.84 123.81 L576.46 123.36M577.7 120.63 L578.32 120.01 L578.94 119.39 L579.56 118.92 L580.18 118.53 L580.8 118.76 L581.42 119.65 L582.04 120.7M582.66 121.86 L583.28 122.58 L583.9 122.77 L584.52 122.96 L585.14 122.12M585.76 120.97 L586.38 120.29 L587 119.67 L587.62 119.05 L588.24 118.43 L588.86 117.81 L589.48 117.34 L590.1 117.03 L590.72 116.72 L591.34 117.39 L591.96 118.28 L592.58 117.46 L593.2 116.53 L593.82 117.37M594.44 118.68 L595.06 118.04M596.92 113.5 L597.54 113 L598.16 112.61" stroke="#1a237e" stroke-width="0.95"/>
</g>
<g fill="none" stroke="#000" stroke-width="1.5">
<rect x="50.7" y="1.3" width="548.6" height="381.4" stroke-width="1.4"/>
<path d="M78.04 382.7v-3.6M78.04 1.3v3.6M105.47 382.7v-3.6M105.47 1.3v3.6M132.9 382.7v-7.4M132.9 1.3v7.4M160.33 382.7v-3.6M160.33 1.3v3.6M187.76 382.7v-3.6M187.76 1.3v3.6M215.19 382.7v-3.6M215.19 1.3v3.6M242.62 382.7v-3.6M242.62 1.3v3.6M270.05 382.7v-7.4M270.05 1.3v7.4M297.48 382.7v-3.6M297.48 1.3v3.6M324.91 382.7v-3.6M324.91 1.3v3.6M352.34 382.7v-3.6M352.34 1.3v3.6M379.77 382.7v-3.6M379.77 1.3v3.6M407.2 382.7v-7.4M407.2 1.3v7.4M434.63 382.7v-3.6M434.63 1.3v3.6M462.06 382.7v-3.6M462.06 1.3v3.6M489.49 382.7v-3.6M489.49 1.3v3.6M516.92 382.7v-3.6M516.92 1.3v3.6M544.35 382.7v-7.4M544.35 1.3v7.4M571.78 382.7v-3.6M571.78 1.3v3.6M50.7 359.7h5.5M599.3 359.7h-5.5M50.7 336.72h5.5M599.3 336.72h-5.5M50.7 313.74h5.5M599.3 313.74h-5.5M50.7 290.76h11.4M599.3 290.76h-11.4M50.7 267.78h5.5M599.3 267.78h-5.5M50.7 244.8h5.5M599.3 244.8h-5.5M50.7 221.82h5.5M599.3 221.82h-5.5M50.7 198.84h11.4M599.3 198.84h-11.4M50.7 175.86h5.5M599.3 175.86h-5.5M50.7 152.88h5.5M599.3 152.88h-5.5M50.7 129.9h5.5M599.3 129.9h-5.5M50.7 106.92h11.4M599.3 106.92h-11.4M50.7 83.94h5.5M599.3 83.94h-5.5M50.7 60.96h5.5M599.3 60.96h-5.5M50.7 37.98h5.5M599.3 37.98h-5.5M50.7 15h11.4M599.3 15h-11.4"/>
</g>
<text transform="translate(133.1 403) scale(1.2 1)" text-anchor="middle" style="font-size:14px;letter-spacing:0.6px;stroke:#000;stroke-width:0.35px;">5420</text>
<text transform="translate(270.25 403) scale(1.2 1)" text-anchor="middle" style="font-size:14px;letter-spacing:0.6px;stroke:#000;stroke-width:0.35px;">5425</text>
<text transform="translate(407.4 403) scale(1.2 1)" text-anchor="middle" style="font-size:14px;letter-spacing:0.6px;stroke:#000;stroke-width:0.35px;">5430</text>
<text transform="translate(544.55 403) scale(1.2 1)" text-anchor="middle" style="font-size:14px;letter-spacing:0.6px;stroke:#000;stroke-width:0.35px;">5435</text>
<text transform="translate(46.6 20.4) scale(1.2 1)" text-anchor="end" style="font-size:14px;letter-spacing:0.5px;stroke:#000;stroke-width:0.35px;">1.0</text>
<text transform="translate(46.6 112.32) scale(1.2 1)" text-anchor="end" style="font-size:14px;letter-spacing:0.5px;stroke:#000;stroke-width:0.35px;">0.8</text>
<text transform="translate(46.6 204.24) scale(1.2 1)" text-anchor="end" style="font-size:14px;letter-spacing:0.5px;stroke:#000;stroke-width:0.35px;">0.6</text>
<text transform="translate(46.6 296.16) scale(1.2 1)" text-anchor="end" style="font-size:14px;letter-spacing:0.5px;stroke:#000;stroke-width:0.35px;">0.4</text>
<text transform="translate(46.6 382.8) scale(1.2 1)" text-anchor="end" style="font-size:14px;letter-spacing:0.5px;stroke:#000;stroke-width:0.35px;">0.2</text>
<text transform="translate(306 420.8) scale(1.08 1)" style="font-size:15.5px;letter-spacing:0.5px;">λ <tspan x="15.37" dy="-0.9" style="stroke:#000;stroke-width:0.35px;letter-spacing:0">(<tspan dy="0.9" style="font-size:14px">A</tspan><tspan dy="-0.9">)</tspan></tspan></text>
<text transform="translate(10.4 281) rotate(-90) scale(1.21 1)" style="font-size:14.5px;letter-spacing:0.65px;font-style:italic;stroke:#000;stroke-width:0.18px;"><tspan x="0">Relative</tspan> <tspan x="56.9" style="letter-spacing:1.72px">Flux</tspan> <tspan x="92.9">+</tspan> <tspan x="109.6" style="letter-spacing:1.07px">Offset</tspan></text>
<text transform="translate(78 83.3) scale(1.15 1)" style="font-size:11.5px;letter-spacing:0.3px;font-weight:bold;">2010<tspan textLength="7" lengthAdjust="spacingAndGlyphs">-</tspan>Apr<tspan textLength="7" lengthAdjust="spacingAndGlyphs">-</tspan>3</text>
<text transform="translate(78 175.8) scale(1.15 1)" style="font-size:11.5px;letter-spacing:0.3px;font-weight:bold;fill:#16166e;">2010<tspan textLength="7" lengthAdjust="spacingAndGlyphs">-</tspan>Apr<tspan textLength="7" lengthAdjust="spacingAndGlyphs">-</tspan>15</text>
<text transform="translate(435 313.6) scale(1.06 1)" style="font-size:23px;letter-spacing:1px;stroke:#000;stroke-width:0.3px;"><tspan style="font-style:italic" textLength="13.2" lengthAdjust="spacingAndGlyphs">α</tspan> <tspan x="27.2" dy="-0.7">Crv</tspan></text>
<text transform="translate(87.5 231.7) scale(1.1 1)" style="font-size:11px;letter-spacing:0.2px;font-weight:bold;">cross<tspan textLength="8.2" lengthAdjust="spacingAndGlyphs">-</tspan><tspan x="32.55">correlation</tspan> <tspan x="91.36">function</tspan></text>
<g fill="none" stroke-linejoin="round">
<path d="M84.67 334.5C85.56 334.44 88 334.17 90 334.17C92 334.17 94.44 334.5 96.67 334.5C98.89 334.5 101.39 334.39 103.33 334.17C105.28 333.94 106.67 333.67 108.33 333.17C110 332.67 111.39 331.97 113.33 331.17C115.28 330.36 117.78 329.31 120 328.33C122.22 327.36 124.72 326.31 126.67 325.33C128.61 324.36 130.28 323.67 131.67 322.5C133.06 321.33 134.03 319.86 135 318.33C135.97 316.81 136.72 315.14 137.5 313.33C138.28 311.53 138.97 309.58 139.67 307.5C140.36 305.42 141 303.19 141.67 300.83C142.33 298.47 143.11 295.42 143.67 293.33C144.22 291.25 144.5 290.56 145 288.33C145.5 286.11 146.11 282.36 146.67 280C147.22 277.64 147.78 275.78 148.33 274.17C148.89 272.56 149.44 271.25 150 270.33C150.56 269.42 151.11 269.06 151.67 268.67C152.22 268.28 152.72 268 153.33 268C153.94 268 154.64 268.19 155.33 268.67C156.03 269.14 156.72 270 157.5 270.83C158.28 271.67 159.03 272.47 160 273.67C160.97 274.86 162.22 276.53 163.33 278C164.44 279.47 165.56 280.92 166.67 282.5C167.78 284.08 168.94 285.75 170 287.5C171.06 289.25 172.11 291.19 173 293C173.89 294.81 174.56 296.47 175.33 298.33C176.11 300.19 176.89 302.22 177.67 304.17C178.44 306.11 179.06 307.92 180 310C180.94 312.08 182.22 314.72 183.33 316.67C184.44 318.61 185.56 320.28 186.67 321.67C187.78 323.06 188.61 323.94 190 325C191.39 326.06 193.06 327.11 195 328C196.94 328.89 199.17 329.64 201.67 330.33C204.17 331.03 207.22 331.72 210 332.17C212.78 332.61 215.56 332.81 218.33 333C221.11 333.19 223.75 333.08 226.67 333.33C229.58 333.58 234.31 334.31 235.83 334.5" stroke="#000" stroke-width="1"/>
<path d="M84.67 334.5C85.56 334.47 88 334.31 90 334.33C92 334.36 94.44 334.61 96.67 334.67C98.89 334.72 101.39 334.67 103.33 334.67C105.28 334.67 106.67 334.89 108.33 334.67C110 334.44 111.39 333.97 113.33 333.33C115.28 332.69 117.78 331.72 120 330.83C122.22 329.94 124.72 328.97 126.67 328C128.61 327.03 130 326.19 131.67 325C133.33 323.81 135.28 322.22 136.67 320.83C138.06 319.44 138.94 318.19 140 316.67C141.06 315.14 142.03 313.61 143 311.67C143.97 309.72 144.94 307.22 145.83 305C146.72 302.78 147.5 300.56 148.33 298.33C149.17 296.11 149.86 294.72 150.83 291.67C151.81 288.61 153.19 283.47 154.17 280C155.14 276.53 155.83 273.47 156.67 270.83C157.5 268.19 158.33 266.03 159.17 264.17C160 262.31 160.92 260.72 161.67 259.67C162.42 258.61 163.06 258.19 163.67 257.83C164.28 257.47 164.78 257.42 165.33 257.5C165.89 257.58 166.44 257.78 167 258.33C167.56 258.89 168.11 259.72 168.67 260.83C169.22 261.94 169.83 263.33 170.33 265C170.83 266.67 171.22 268.61 171.67 270.83C172.11 273.06 172.58 275.97 173 278.33C173.42 280.69 173.69 282.78 174.17 285C174.64 287.22 175.36 289.44 175.83 291.67C176.31 293.89 176.53 296.11 177 298.33C177.47 300.56 178.03 302.78 178.67 305C179.31 307.22 180.06 309.72 180.83 311.67C181.61 313.61 182.36 315 183.33 316.67C184.31 318.33 185.56 320.28 186.67 321.67C187.78 323.06 188.61 323.94 190 325C191.39 326.06 193.06 327.11 195 328C196.94 328.89 199.17 329.64 201.67 330.33C204.17 331.03 207.22 331.72 210 332.17C212.78 332.61 215.56 332.81 218.33 333C221.11 333.19 223.75 333.08 226.67 333.33C229.58 333.58 234.31 334.31 235.83 334.5" stroke="#1a237e" stroke-width="1"/>
<rect x="84.7" y="236" width="150.9" height="117.4" stroke="#000" stroke-width="1"/>
<path d="M90.22 353.4v-1.3M90.22 236v1.3M95.64 353.4v-1.3M95.64 236v1.3M101.06 353.4v-1.3M101.06 236v1.3M106.48 353.4v-1.3M106.48 236v1.3M111.9 353.4v-2.6M111.9 236v2.6M117.32 353.4v-1.3M117.32 236v1.3M122.74 353.4v-1.3M122.74 236v1.3M128.16 353.4v-1.3M128.16 236v1.3M133.58 353.4v-1.3M133.58 236v1.3M139 353.4v-2.6M139 236v2.6M144.42 353.4v-1.3M144.42 236v1.3M149.84 353.4v-1.3M149.84 236v1.3M155.26 353.4v-1.3M155.26 236v1.3M160.68 353.4v-1.3M160.68 236v1.3M166.1 353.4v-2.6M166.1 236v2.6M171.52 353.4v-1.3M171.52 236v1.3M176.94 353.4v-1.3M176.94 236v1.3M182.36 353.4v-1.3M182.36 236v1.3M187.78 353.4v-1.3M187.78 236v1.3M193.2 353.4v-2.6M193.2 236v2.6M198.62 353.4v-1.3M198.62 236v1.3M204.04 353.4v-1.3M204.04 236v1.3M209.46 353.4v-1.3M209.46 236v1.3M214.88 353.4v-1.3M214.88 236v1.3M220.3 353.4v-2.6M220.3 236v2.6M225.72 353.4v-1.3M225.72 236v1.3M231.14 353.4v-1.3M231.14 236v1.3M84.7 349.15h1.4M235.6 349.15h-1.4M84.7 344.9h1.4M235.6 344.9h-1.4M84.7 340.65h1.4M235.6 340.65h-1.4M84.7 336.4h1.4M235.6 336.4h-1.4M84.7 332.15h2.8M235.6 332.15h-2.8M84.7 327.9h1.4M235.6 327.9h-1.4M84.7 323.65h1.4M235.6 323.65h-1.4M84.7 319.4h1.4M235.6 319.4h-1.4M84.7 315.15h1.4M235.6 315.15h-1.4M84.7 310.9h2.8M235.6 310.9h-2.8M84.7 306.65h1.4M235.6 306.65h-1.4M84.7 302.4h1.4M235.6 302.4h-1.4M84.7 298.15h1.4M235.6 298.15h-1.4M84.7 293.9h1.4M235.6 293.9h-1.4M84.7 289.65h2.8M235.6 289.65h-2.8M84.7 285.4h1.4M235.6 285.4h-1.4M84.7 281.15h1.4M235.6 281.15h-1.4M84.7 276.9h1.4M235.6 276.9h-1.4M84.7 272.65h1.4M235.6 272.65h-1.4M84.7 268.4h2.8M235.6 268.4h-2.8M84.7 264.15h1.4M235.6 264.15h-1.4M84.7 259.9h1.4M235.6 259.9h-1.4M84.7 255.65h1.4M235.6 255.65h-1.4M84.7 251.4h1.4M235.6 251.4h-1.4M84.7 247.15h2.8M235.6 247.15h-2.8M84.7 242.9h1.4M235.6 242.9h-1.4M84.7 238.65h1.4M235.6 238.65h-1.4" stroke="#000" stroke-width="0.8"/>
</g>
</svg></body></html>
